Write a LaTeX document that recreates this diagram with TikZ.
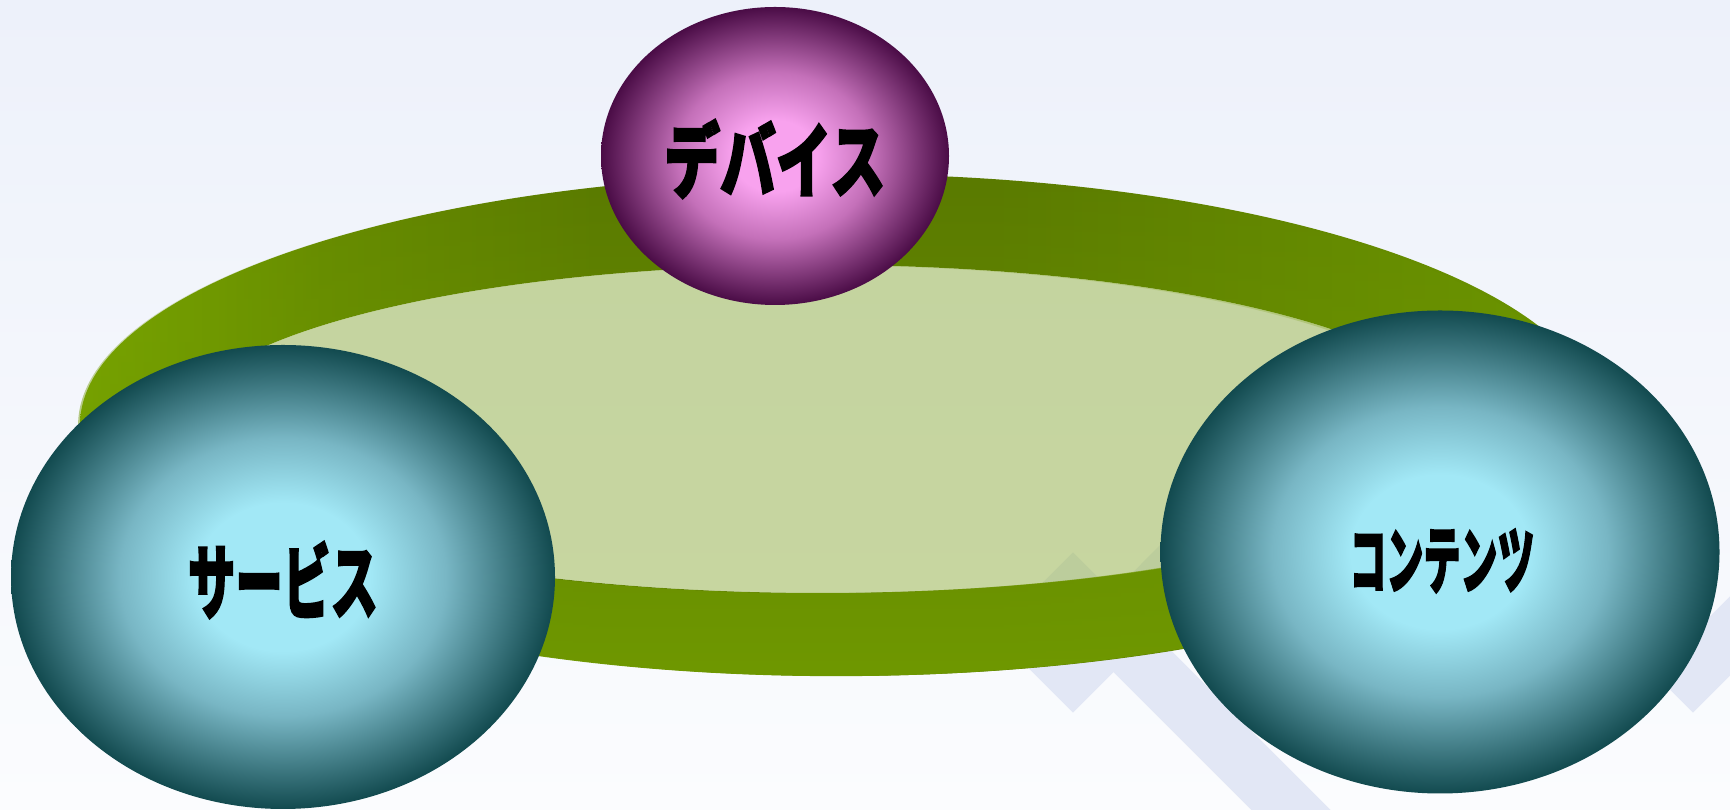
\documentclass[tikz,border=0pt]{standalone}
\usepackage{fontspec}
\usepackage{tikz}
\usetikzlibrary{shapes.geometric,fadings}
\newfontfamily\jpfont{Noto Sans CJK JP}[BoldFeatures={FakeBold=2.5}]

\definecolor{bgtop}{HTML}{EDF1FA}
\definecolor{bgbot}{HTML}{FBFCFE}
\definecolor{chevron}{HTML}{E2E7F5}
\definecolor{ringL}{HTML}{7BA800}
\definecolor{ringLM}{HTML}{668B00}
\definecolor{ringM}{HTML}{5A7A00}
\definecolor{ringR}{HTML}{6B9400}
\definecolor{ringlow}{HTML}{6F9800}
\definecolor{innergreen}{HTML}{98B445}
\definecolor{tealhi}{HTML}{A2E8F6}
\definecolor{tealmid}{HTML}{78B6C4}
\definecolor{tealdk}{HTML}{124A4F}
\definecolor{pinkhi}{HTML}{F8A2EE}
\definecolor{pinkmid}{HTML}{C470B9}
\definecolor{pinkdk}{HTML}{4A0C46}

\pgfdeclareradialshading{tealshade}{\pgfpoint{0bp}{0bp}}{color(0bp)=(tealhi); color(8bp)=(tealhi); color(15bp)=(tealmid); color(25bp)=(tealdk); color(50bp)=(tealdk)}
\pgfdeclareradialshading{pinkshade}{\pgfpoint{0bp}{0bp}}{color(0bp)=(pinkhi); color(6bp)=(pinkhi); color(14bp)=(pinkmid); color(25bp)=(pinkdk); color(50bp)=(pinkdk)}
\pgfdeclarehorizontalshading{ringshade}{100bp}{color(0bp)=(ringL); color(25bp)=(ringL); color(33bp)=(ringLM); color(42bp)=(ringM); color(55bp)=(ringM); color(75bp)=(ringR); color(100bp)=(ringR)}
\tikzfading[name=ringfade, top color=transparent!100, middle color=transparent!100, bottom color=transparent!0]

\newcommand{\balltext}[3]{\scalebox{#1}[1]{\fontsize{#2}{#2}\selectfont\jpfont\bfseries #3}}

\tikzset{
  ball/.style={ellipse, inner sep=0pt, shade},
  tealball/.style={ball, shading=tealshade},
  pinkball/.style={ball, shading=pinkshade},
  balllabel/.style={inner sep=0pt},
  chevronline/.style={draw=chevron, line width=56pt, line join=miter}
}

\begin{document}
\begin{tikzpicture}[x=1pt, y=1pt]
    \useasboundingbox (0,0) rectangle (1730,810);
    \shade[top color=bgtop, bottom color=bgbot] (0,0) rectangle (1730,810);

    \begin{scope}
        \clip (0,0) rectangle (1730,810);
        \draw[chevronline] (1053,198) -- (1073,218) -- (1400,-109);
        \draw[chevronline] (1020,190) -- (1073,137) -- (1113,177);
        \draw[chevronline] (1120,185) -- (1382,448) -- (1693,137) -- (1850,294);
    \end{scope}

    \shade[even odd rule, shading=ringshade]
        (840,385) ellipse [x radius=760, y radius=251]
        (821,381) ellipse [x radius=643, y radius=164];
    \fill[ringlow, even odd rule, path fading=ringfade]
        (840,385) ellipse [x radius=760, y radius=251]
        (821,381) ellipse [x radius=643, y radius=164];
    \fill[innergreen, fill opacity=0.5] (821,381) ellipse [x radius=643, y radius=164];

    \node[tealball, minimum width=544pt, minimum height=464pt] (service) at (283,233) {};
    \node[tealball, minimum width=559pt, minimum height=483pt] (contents) at (1440,258) {};
    \node[pinkball, minimum width=348pt, minimum height=298pt] (device) at (775,654) {};

    \node[balllabel] (servicetext) at ([yshift=-3pt]service.center) {\balltext{0.58}{82}{サービス}};
    \node[balllabel] (contentstext) at ([xshift=2pt, yshift=-9pt]contents.center) {\balltext{0.5}{74}{コンテンツ}};
    \node[balllabel] (devicetext) at ([yshift=-3pt]device.center) {\balltext{0.68}{82}{デバイス}};
\end{tikzpicture}
\end{document}
